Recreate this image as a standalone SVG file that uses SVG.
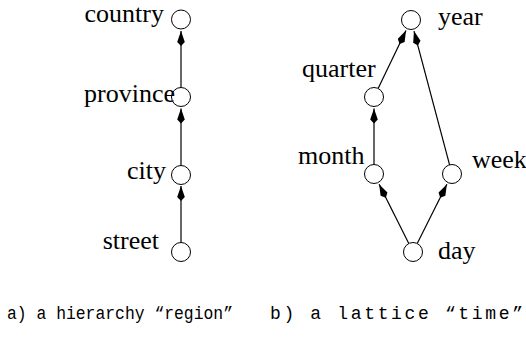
<svg xmlns="http://www.w3.org/2000/svg" width="526" height="341" viewBox="0 0 526 341">
  <style>
    .node circle { fill: #fff; stroke: #000; stroke-width: 1; }
    .edge { stroke: #000; stroke-width: 1.2; fill: none; marker-end: url(#kite); }
  </style>
  <defs>
    <marker id="kite" markerUnits="userSpaceOnUse" viewBox="0 -4 16 8" refX="15" refY="0" markerWidth="16" markerHeight="8" orient="auto">
      <path d="M15,0 L4,-3.8 L0,0 L4,3.8 Z" fill="#000"/>
    </marker>
  </defs>
  <rect width="526" height="341" fill="#fff"/>

  <!-- connectors -->
  <g id="connectors">
    <path class="edge" d="M181,87.5 L181,31"/>
    <path class="edge" d="M181,165.5 L181,108.5"/>
    <path class="edge" d="M181,242.5 L181,186"/>
    <path class="edge" d="M378.1,88.4 L406,30.4"/>
    <path class="edge" d="M449.6,164.8 L414,31.1"/>
    <path class="edge" d="M374,164.5 L374,108.5"/>
    <path class="edge" d="M408.8,243.5 L379.1,184.3"/>
    <path class="edge" d="M417.2,243.5 L446.9,184.3"/>
  </g>

  <g font-family="Liberation Serif, DejaVu Serif, serif" font-size="26" fill="#000">
    <!-- hierarchy "region" -->
    <g id="country" class="node"><circle cx="181" cy="19.5" r="9.5"/><text x="164" y="22" text-anchor="end">country</text></g>
    <g id="province" class="node"><circle cx="181" cy="97" r="9.5"/><text x="175" y="102" text-anchor="end">province</text></g>
    <g id="city" class="node"><circle cx="181" cy="175" r="9.5"/><text x="166" y="179" text-anchor="end">city</text></g>
    <g id="street" class="node"><circle cx="181" cy="252" r="9.5"/><text x="159" y="249" text-anchor="end">street</text></g>

    <!-- lattice "time" -->
    <g id="year" class="node"><circle cx="411" cy="20" r="9.5"/><text x="438" y="25">year</text></g>
    <g id="quarter" class="node"><circle cx="374" cy="97" r="9.5"/><text x="302" y="77">quarter</text></g>
    <g id="month" class="node"><circle cx="374" cy="174" r="9.5"/><text x="298" y="164">month</text></g>
    <g id="week" class="node"><circle cx="452" cy="174" r="9.5"/><text x="472" y="168">week</text></g>
    <g id="day" class="node"><circle cx="413" cy="252" r="9.5"/><text x="438" y="259">day</text></g>
  </g>

  <!-- captions (typewriter face) -->
  <g font-family="Liberation Mono, DejaVu Sans Mono, monospace" font-size="18" fill="#000">
    <text x="7" y="319" textLength="226" lengthAdjust="spacingAndGlyphs">a) a hierarchy “region”</text>
    <text x="270" y="319" textLength="253" lengthAdjust="spacing">b) a lattice “time”</text>
  </g>
</svg>
